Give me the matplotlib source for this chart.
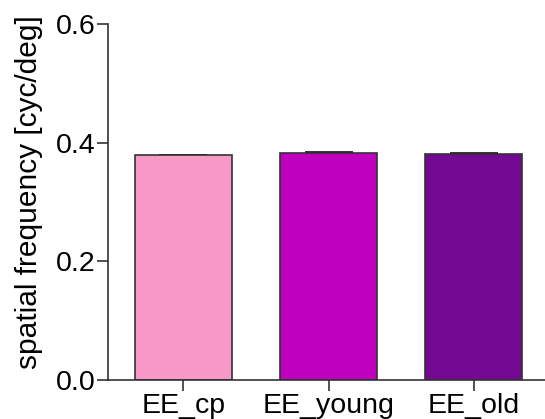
import matplotlib
matplotlib.use("Agg")
import matplotlib.pyplot as plt

groups = ["EE_cp", "EE_young", "EE_old"]
means = [0.379, 0.383, 0.381]
sems = [0.0, 0.0015, 0.001]
colors = ["#F799C6", "#BF00BF", "#730892"]
yticks = [0.0, 0.2, 0.4, 0.6]

plt.rcParams["font.family"] = ["Liberation Sans", "DejaVu Sans"]

fig = plt.figure(figsize=(5.45, 4.19), dpi=100)
ax = fig.add_axes([0.198, 0.093, 0.802, 0.850])

x = range(len(groups))
ax.bar(x, means, width=0.67, color=colors, edgecolor="#333333", linewidth=1.2, zorder=2)
ax.errorbar(x, means, yerr=[[0] * len(sems), sems], fmt="none", ecolor="#111111",
            elinewidth=1.2, capsize=17, capthick=1.2, zorder=1)

ax.set_xlim(-0.52, 2.49)
ax.set_ylim(0, 0.6)
ax.set_yticks(yticks)
ax.set_yticklabels([f"{t:.1f}" for t in yticks])
ax.set_xticks(list(x))
ax.set_xticklabels(groups)
ax.set_ylabel("spatial frequency [cyc/deg]", fontsize=21.5)
ax.yaxis.set_label_coords(-0.148, 0.527)

for s in ["top", "right"]:
    ax.spines[s].set_visible(False)
for s in ["left", "bottom"]:
    ax.spines[s].set_linewidth(1.2)
    ax.spines[s].set_color("#333333")
ax.tick_params(axis="both", labelsize=20.5, length=8, width=1.2, color="#333333", pad=1)

fig.savefig("out.png", dpi=100)
